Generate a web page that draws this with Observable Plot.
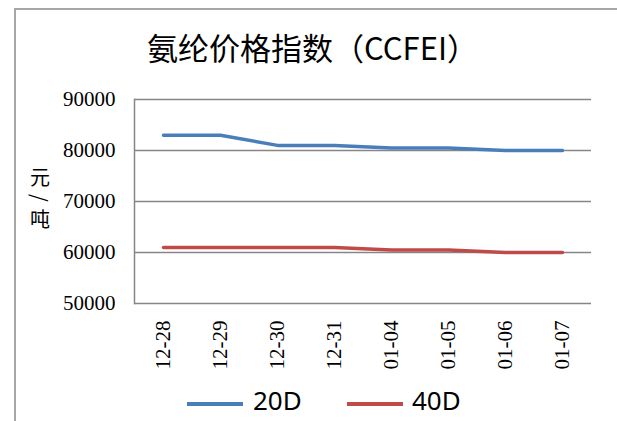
<!DOCTYPE html>
<html>
<head>
<meta charset="utf-8">
<script src="https://cdn.jsdelivr.net/npm/d3@7"></script>
<script src="https://cdn.jsdelivr.net/npm/@observablehq/plot@0.6"></script>
<style>
  html, body { margin: 0; padding: 0; background: #fff; }
  #wrap { position: relative; width: 617px; height: 421px; overflow: hidden; }
  #border { position: absolute; left: 14px; top: 8px; width: 640px; height: 440px; border: 2px solid #a6a6a6; box-sizing: border-box; }
  #title { position: absolute; left: 147px; top: 24px; font-family: "Noto Sans CJK SC", sans-serif; font-size: 31px; color: #000; white-space: nowrap; }
  #ylab { position: absolute; left: 29px; top: 167px; width: 22px; text-align: center; font-family: "Noto Sans CJK SC", sans-serif; font-size: 20px; line-height: 1; color: #000; }
  #ylab span { display: block; }
  #ylab span.rot { transform: rotate(90deg); margin: 1px 0; }
  #chart { position: absolute; left: 0; top: 80px; }
  #chart svg text { font-family: "Liberation Serif", "Times New Roman", serif; font-size: 21px; fill: #000; }
  .leg { position: absolute; top: 387px; font-family: "Noto Sans", sans-serif; font-size: 26px; line-height: 1; color: #000; white-space: nowrap; }
  .legline { position: absolute; height: 4px; top: 402px; width: 56px; }
</style>
</head>
<body>
<div id="wrap">
  <div id="border"></div>
  <div id="title"></div>
  <div id="ylab"></div>
  <div id="chart"></div>
</div>
<script>
const titleText = "氨纶价格指数（CCFEI）";
const yLabel = "元/吨";
const dates = ["12-28", "12-29", "12-30", "12-31", "01-04", "01-05", "01-06", "01-07"];
const seriesNames = ["20D", "40D"];
const values20D = [83000, 83000, 81000, 81000, 80500, 80500, 80000, 80000];
const values40D = [61000, 61000, 61000, 61000, 60500, 60500, 60000, 60000];
const yTicks = [50000, 60000, 70000, 80000, 90000];
const colors = ["#4a7ebb", "#be4b48"];

const data = [];
dates.forEach((d, i) => {
  data.push({date: d, series: seriesNames[0], value: values20D[i]});
  data.push({date: d, series: seriesNames[1], value: values40D[i]});
});

document.getElementById("title").textContent = titleText;
const ylab = document.getElementById("ylab");
Array.from(yLabel).forEach(ch => {
  const s = document.createElement("span");
  s.textContent = ch;
  if (ch === "/") s.className = "rot";
  ylab.appendChild(s);
});

const chart = Plot.plot({
  width: 617,
  height: 293,
  marginLeft: 134,
  marginRight: 26,
  marginTop: 19,
  marginBottom: 70,
  style: {background: "transparent", overflow: "visible", fontFamily: "Liberation Serif", fontSize: "21px"},
  x: {type: "point", domain: dates, padding: 0.5, align: 0.5},
  y: {domain: [50000, 90000]},
  color: {domain: seriesNames, range: colors},
  marks: [
    Plot.ruleY(yTicks, {stroke: "#868686", strokeWidth: 1.5, strokeOpacity: 1}),
    Plot.frame({anchor: "left", stroke: "#868686", strokeWidth: 1.5, strokeOpacity: 1}),
    Plot.axisY({ticks: yTicks, tickSize: 0, tickPadding: 19, tickFormat: d => String(d), label: null,
      fontFamily: "Liberation Serif", fontSize: 21, fill: "#000"}),
    Plot.axisX({tickSize: 0, tickPadding: 17, tickRotate: -90, label: null,
      fontFamily: "Liberation Serif", fontSize: 21, fill: "#000"}),
    Plot.line(data, {x: "date", y: "value", z: "series", stroke: "series", strokeWidth: 3.5, strokeLinejoin: "round"})
  ]
});
document.getElementById("chart").appendChild(chart);

// legend
const wrap = document.getElementById("wrap");
const legPos = [{line: 187, text: 253}, {line: 347, text: 412}];
seriesNames.forEach((name, i) => {
  const ln = document.createElement("div");
  ln.className = "legline";
  ln.style.left = legPos[i].line + "px";
  ln.style.background = colors[i];
  wrap.appendChild(ln);
  const t = document.createElement("div");
  t.className = "leg";
  t.style.left = legPos[i].text + "px";
  t.textContent = name;
  wrap.appendChild(t);
});
</script>
</body>
</html>
